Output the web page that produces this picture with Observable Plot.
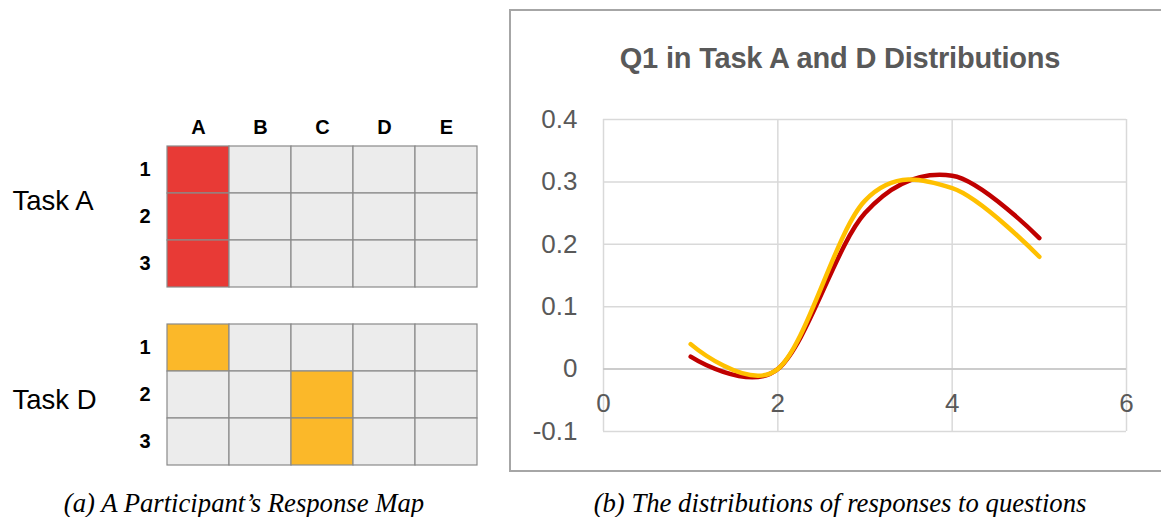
<!DOCTYPE html>
<html>
<head>
<meta charset="utf-8">
<script src="https://cdn.jsdelivr.net/npm/d3@7"></script>
<script src="https://cdn.jsdelivr.net/npm/@observablehq/plot@0.6"></script>
<style>
  html, body { margin: 0; padding: 0; background: #fff; overflow: hidden; }
  #page { position: relative; width: 1161px; height: 517px; overflow: hidden; }
  #left { position: absolute; left: 0; top: 0; }
  #box { position: absolute; left: 509px; top: 9px; width: 658px; height: 459px; border: 2px solid #a6a6a6; }
  #right { position: absolute; left: 0; top: 0; }
  #title { position: absolute; left: 0; top: 32px; width: 658px; text-align: center; line-height: 30px;
           font-family: "Liberation Sans", Arial, sans-serif; font-weight: bold; font-size: 29px; color: #595959; letter-spacing: -0.2px; }
  .cap { position: absolute; top: 488px; line-height: 30px; font-family: "Liberation Serif", "DejaVu Serif", serif;
         font-style: italic; font-size: 26.7px; color: #000; white-space: nowrap; transform: translateX(-50%); }
</style>
</head>
<body>
<div id="page">
  <div id="left"></div>
  <div id="box"><div id="right"></div><div id="title">Q1 in Task A and D Distributions</div></div>
  <div class="cap" style="left:244px">(a) A Participant’s Response Map</div>
  <div class="cap" style="left:840px">(b) The distributions of responses to questions</div>
</div>
<script>
// ---- data: response map ----
const columns = ["A", "B", "C", "D", "E"];
const rows = [1, 2, 3];
const tasks = ["Task A", "Task D"];
const taskASelected = ["A1", "A2", "A3"];
const taskDSelected = ["A1", "C2", "C3"];
const taskColors = {"Task A": "#e83a36", "Task D": "#fbb829"};

// ---- data: distributions ----
const questionX = [1, 2, 3, 4, 5];
const taskAValues = [0.02, 0.0, 0.25, 0.31, 0.21];
const taskDValues = [0.04, 0.0, 0.27, 0.29, 0.18];
const xTicks = [0, 2, 4, 6];
const yTicks = [-0.1, 0, 0.1, 0.2, 0.3, 0.4];
const seriesColors = {"Task A": "#c00000", "Task D": "#ffc000"};

// build cell table
const selected = {"Task A": taskASelected, "Task D": taskDSelected};
const cells = [];
for (const t of tasks) for (const r of rows) for (const c of columns)
  cells.push({task: t, row: r, col: c, on: selected[t].includes(c + r)});

const left = Plot.plot({
  width: 500, height: 517,
  marginLeft: 165, marginRight: 21, marginTop: 146, marginBottom: 52,
  style: {fontFamily: "Liberation Sans, Arial, sans-serif", color: "#000"},
  x: {domain: columns, padding: 0, axis: null, label: null},
  y: {domain: rows, padding: 0, axis: null, label: null},
  fy: {domain: tasks, paddingInner: 0.208, paddingOuter: 0, axis: null, label: null},
  marks: [
    Plot.cell(cells, {x: "col", y: "row", fy: "task",
      fill: d => d.on ? taskColors[d.task] : "#ececec", stroke: "#8a8a8a", strokeWidth: 1.2}),
    Plot.text(columns, {x: d => d, fy: () => "Task A", frameAnchor: "top", lineAnchor: "middle", dy: -19, text: d => d, fontSize: 20, fontWeight: "bold", fill: "#000"}),
    Plot.text(rows, {y: d => d, frameAnchor: "left", dx: -15, textAnchor: "end", text: d => String(d), fontSize: 20, fontWeight: "bold", fill: "#000"}),
    Plot.text([{task: "Task A"}], {fy: "task", text: "task", y: () => 2, dy: -16, frameAnchor: "left", dx: -153, textAnchor: "start", fontSize: 27.5, fill: "#000"}),
    Plot.text([{task: "Task D"}], {fy: "task", text: "task", y: () => 2, dy: 5, frameAnchor: "left", dx: -153, textAnchor: "start", fontSize: 27.5, fill: "#000"})
  ]
});
document.getElementById("left").append(left);

const series = [];
questionX.forEach((x, i) => series.push({task: "Task A", x, y: taskAValues[i]}));
questionX.forEach((x, i) => series.push({task: "Task D", x, y: taskDValues[i]}));

const fmt = d => String(+d.toFixed(1));
const right = Plot.plot({
  width: 650, height: 459,
  marginLeft: 92, marginRight: 35, marginTop: 108, marginBottom: 39,
  style: {fontFamily: "Liberation Sans, Arial, sans-serif", color: "#595959", overflow: "visible"},
  x: {domain: [0, 6], axis: null, label: null},
  y: {domain: [-0.1, 0.4], axis: null, label: null},
  marks: [
    Plot.gridX(xTicks, {stroke: "#d9d9d9", strokeOpacity: 1, strokeWidth: 1.5}),
    Plot.gridY(yTicks, {stroke: "#d9d9d9", strokeOpacity: 1, strokeWidth: 1.5}),
    Plot.ruleY([0], {stroke: "#c4c4c4", strokeWidth: 1.5}),
    Plot.axisY(yTicks, {anchor: "left", label: null, tickSize: 0, tickPadding: 26, tickFormat: fmt, fontSize: 26, fill: "#595959", letterSpacing: -0.5}),
    Plot.text(xTicks, {x: d => d, y: () => 0, dy: 35, text: d => String(d), fontSize: 26, fill: "#595959"}),
    Plot.line(series, {x: "x", y: "y", z: "task", stroke: d => seriesColors[d.task], strokeWidth: 4.5, curve: "cardinal", tension: 0, strokeLinecap: "round"})
  ]
});
document.getElementById("right").append(right);
</script>
</body>
</html>
